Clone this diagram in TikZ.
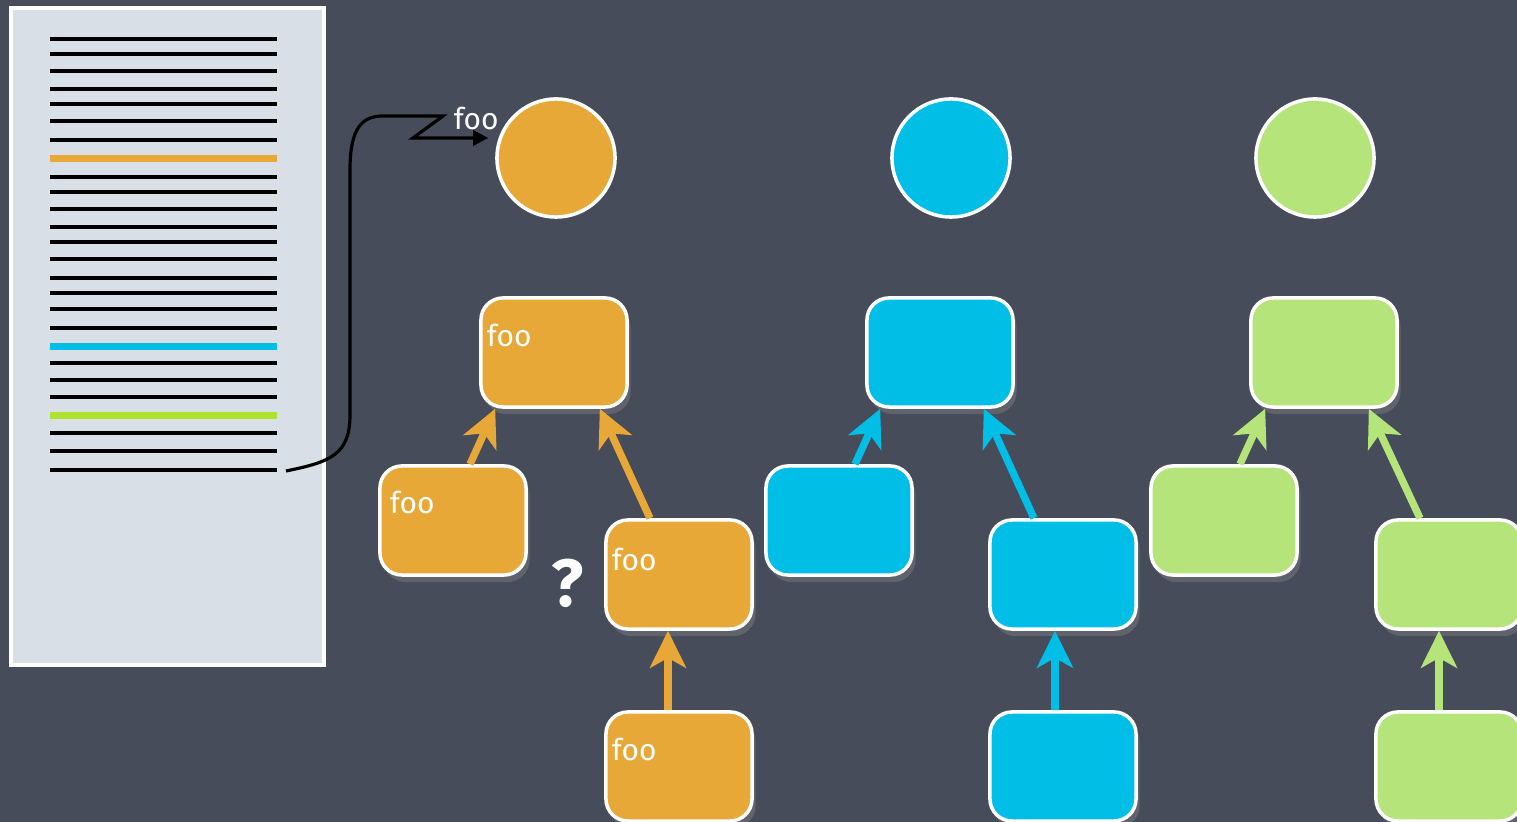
\documentclass[tikz,border=0pt]{standalone}
\usepackage{fontspec}
\setmainfont{Fira Sans}
\usetikzlibrary{arrows.meta,shadows}

\definecolor{board}{RGB}{70,76,90}
\definecolor{paper}{RGB}{216,223,230}
\definecolor{ochre}{RGB}{232,168,56}
\definecolor{sky}{RGB}{0,190,230}
\definecolor{lime}{RGB}{180,228,122}
\definecolor{limeline}{RGB}{174,226,44}

\tikzset{
  chunk/.style={draw=white, line width=1pt, rounded corners=0.22cm,
    minimum width=1.46cm, minimum height=1.09cm,
    drop shadow={shadow xshift=1pt, shadow yshift=-2pt, opacity=0.45}},
  root/.style={circle, draw=white, line width=1pt, minimum size=1.18cm},
  foolabel/.style={text=white, anchor=base west, inner sep=0pt,
    font=\fontsize{8.5}{10}\selectfont},
  link/.style={line width=2.1pt, -{Stealth[length=0.37cm, width=0.36cm, inset=0.1cm]}},
  docline/.style={line width=1.1pt, black},
}

\begin{document}
\begin{tikzpicture}[x=0.01cm, y=-0.01cm]
  \fill[board] (0,0) rectangle (1517,822);
  \useasboundingbox (0,0) rectangle (1517,822);
  \clip (0,0) rectangle (1517,822);

  % the document
  \node[draw=white, line width=1pt, fill=paper, minimum width=3.13cm,
        minimum height=6.57cm, inner sep=0pt] (doc) at (167.5,336.5) {};
  \foreach \y in {39,53.7,70.7,89.3,104.3,121,139.7,177,192,208.7,227.3,
                  242.3,259,277.7,292.7,309.3,328,363.3,380,397,432.7,451,469.7}
    \draw[docline] (50,\y) -- (277,\y);
  \draw[line width=2pt, ochre] (50,158.3) -- (277,158.3);
  \draw[line width=2pt, sky] (50,346.7) -- (277,346.7);
  \draw[line width=2pt, limeline] (50,415.7) -- (277,415.7);
  \coordinate (lastline) at (286,471);

  % roots
  \node[root, fill=ochre] (oc) at (556,158) {};
  \node[root, fill=sky] (bc) at (951,158) {};
  \node[root, fill=lime] (gc) at (1315,158) {};

  % ochre tree
  \node[chunk, fill=ochre] (ot) at (554,352.5) {};
  \node[chunk, fill=ochre] (ol) at (453,520.5) {};
  \node[chunk, fill=ochre] (or) at (679,574.5) {};
  \node[chunk, fill=ochre] (ob) at (679,766.5) {};
  \node[foolabel] (ot-foo) at ([shift={(7,50)}]ot.north west) {foo};
  \node[foolabel] (ol-foo) at ([shift={(11,49)}]ol.north west) {foo};
  \node[foolabel] (or-foo) at ([shift={(7,52)}]or.north west) {foo};
  \node[foolabel] (ob-foo) at ([shift={(7,50)}]ob.north west) {foo};
  \node[text=white, font=\fontsize{19}{20}\selectfont\bfseries] (ask) at (568,583) {?};

  % sky tree
  \node[chunk, fill=sky] (bt) at (940,352.5) {};
  \node[chunk, fill=sky] (bl) at (839,520.5) {};
  \node[chunk, fill=sky] (br) at (1063,574.5) {};
  \node[chunk, fill=sky] (bb) at (1063,766.5) {};

  % lime tree
  \node[chunk, fill=lime] (gt) at (1324,352.5) {};
  \node[chunk, fill=lime] (gl) at (1224,520.5) {};
  \node[chunk, fill=lime] (gr) at (1449,574.5) {};
  \node[chunk, fill=lime] (gb) at (1449,766.5) {};

  \draw[link, ochre] ([shift={(17,0)}]ol.north) -- ([shift={(16,0)}]ot.south west);
  \draw[link, ochre] ([shift={(-29,0)}]or.north) -- ([shift={(-29,0)}]ot.south east);
  \draw[link, ochre] ([shift={(-11,0)}]ob.north) -- ([shift={(-11,0)}]or.south);
  \draw[link, sky] ([shift={(16,0)}]bl.north) -- ([shift={(15,0)}]bt.south west);
  \draw[link, sky] ([shift={(-29,0)}]br.north) -- ([shift={(-31,0)}]bt.south east);
  \draw[link, sky] ([shift={(-8,0)}]bb.north) -- ([shift={(-8,0)}]br.south);
  \draw[link, lime] ([shift={(16,0)}]gl.north) -- ([shift={(16,0)}]gt.south west);
  \draw[link, lime] ([shift={(-29,0)}]gr.north) -- ([shift={(-30,0)}]gt.south east);
  \draw[link, lime] ([shift={(-10,0)}]gb.north) -- ([shift={(-10,0)}]gr.south);

  % pointer from the file to the first root
  \coordinate (tip) at ([shift={(-7,-20)}]oc.west);
  \draw[line width=0.9pt, -{Triangle[length=0.15cm, width=0.15cm]}]
    (lastline) .. controls (330,462) and (350,455) .. (350,415)
    -- (350,170) .. controls (350,128) and (362,116) .. (383,116)
    -- (443,116) -- (413,138) -- (tip);
  \node[foolabel] (oc-foo) at ([shift={(-42,-28)}]oc.west) {foo};
\end{tikzpicture}
\end{document}
